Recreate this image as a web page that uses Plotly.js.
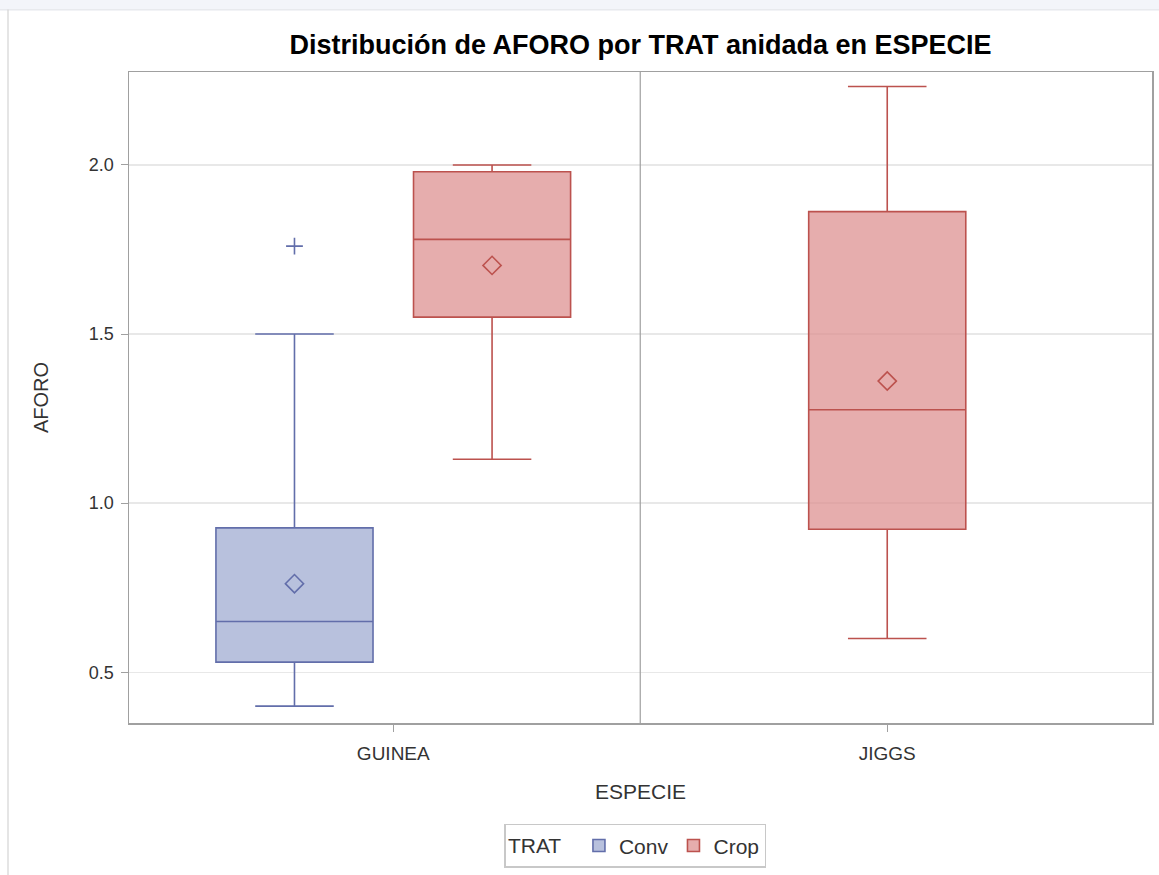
<!DOCTYPE html>
<html>
<head>
<meta charset="utf-8">
<script src="https://cdn.plot.ly/plotly-3.0.1.min.js"></script>
<style>html,body{margin:0;padding:0;background:#fff;}#chart{width:1159px;height:875px;}</style>
</head>
<body>
<div id="chart"></div>
<script>
// ---- data ----
const especies = ['GUINEA', 'JIGGS'];
const tratamientos = ['Conv', 'Crop'];
const boxEspecie = ['GUINEA', 'GUINEA', 'JIGGS'];
const boxTrat = ['Conv', 'Crop', 'Crop'];
const lowerFence = [0.40, 1.13, 0.60];
const q1 = [0.53, 1.55, 0.923];
const median = [0.65, 1.78, 1.276];
const q3 = [0.927, 1.98, 1.862];
const upperFence = [1.50, 2.00, 2.232];
const means = [0.762, 1.703, 1.361];
const outlierEspecie = ['GUINEA'];
const outlierTrat = ['Conv'];
const outlierValues = [1.76];
const yTicks = [0.5, 1.0, 1.5, 2.0];

// ---- styles ----
const lineColors = {Conv: 'rgb(98,110,170)', Crop: 'rgb(188,82,78)'};
const fillColors = {Conv: 'rgba(160,172,210,0.75)', Crop: 'rgba(222,146,146,0.75)'};
const slot = 0.4, boxW = 0.318;

// position of a box: species index plus offset within the species group
function boxPos(esp, trat) {
  const groups = tratamientos.filter(t => boxEspecie.some((e, i) => e === esp && boxTrat[i] === t));
  const k = groups.indexOf(trat);
  return especies.indexOf(esp) + (k - (groups.length - 1) / 2) * slot;
}

const traces = [];
const legendShown = {};
boxEspecie.forEach((esp, i) => {
  const t = boxTrat[i];
  traces.push({
    type: 'box',
    name: t,
    legendgroup: t,
    showlegend: !legendShown[t],
    x: [boxPos(esp, t)],
    q1: [q1[i]], median: [median[i]], q3: [q3[i]],
    lowerfence: [lowerFence[i]], upperfence: [upperFence[i]],
    width: boxW,
    whiskerwidth: 0.5,
    fillcolor: fillColors[t],
    line: {color: lineColors[t], width: 1.6},
    boxpoints: false,
    hoverinfo: 'skip'
  });
  legendShown[t] = true;
  traces.push({
    type: 'scatter', mode: 'markers', showlegend: false, legendgroup: t,
    x: [boxPos(esp, t)], y: [means[i]],
    marker: {symbol: 'diamond-open', size: 14, color: lineColors[t], line: {width: 1.6, color: lineColors[t]}},
    hoverinfo: 'skip'
  });
});
outlierEspecie.forEach((esp, i) => {
  const t = outlierTrat[i];
  traces.push({
    type: 'scatter', mode: 'markers', showlegend: false, legendgroup: t,
    x: [boxPos(esp, t)], y: [outlierValues[i]],
    marker: {symbol: 'cross-thin-open', size: 12, color: lineColors[t], line: {width: 1.6, color: lineColors[t]}},
    hoverinfo: 'skip'
  });
});

const font = 'Liberation Sans, Arial, sans-serif';
const layout = {
  width: 1159, height: 875,
  margin: {l: 129, r: 7, t: 72, b: 148},
  paper_bgcolor: '#fff', plot_bgcolor: '#fff',
  font: {family: font, color: '#333', size: 18},
  showlegend: true,
  title: {
    text: '<b>Distribución de AFORO por TRAT anidada en ESPECIE</b>',
    font: {family: font, size: 27, color: '#000'},
    x: 0.5, xref: 'paper', xanchor: 'center',
    y: 1 - 45 / 875, yref: 'container', yanchor: 'middle'
  },
  xaxis: {
    range: [-0.535, 1.536],
    tickvals: especies.map((e, i) => i), ticktext: especies,
    ticks: 'outside', ticklen: 7, tickcolor: '#a0a0a0', tickwidth: 1,
    ticklabelstandoff: 6,
    showgrid: false, zeroline: false,
    showline: true, linecolor: '#a0a0a0', linewidth: 1.5, mirror: true,
    tickfont: {size: 19, color: '#333'},
    title: {text: 'ESPECIE', font: {size: 21, color: '#333'}, standoff: 21}
  },
  yaxis: {
    range: [0.350, 2.2748],
    tickvals: yTicks, ticktext: yTicks.map(v => v.toFixed(1)),
    ticks: 'outside', ticklen: 7, tickcolor: '#a0a0a0', tickwidth: 1,
    ticklabelstandoff: 3,
    showgrid: true, gridcolor: '#e8e8e8', gridwidth: 1.5, zeroline: false,
    showline: true, linecolor: '#a0a0a0', linewidth: 1.5, mirror: true,
    tickfont: {size: 18, color: '#333'},
    title: {text: 'AFORO', font: {size: 20, color: '#333'}, standoff: 35}
  },
  legend: {
    orientation: 'h', x: 0.495, xanchor: 'center', xref: 'paper',
    y: -0.155, yanchor: 'top',
    bordercolor: '#c8c8c8', borderwidth: 1.5, bgcolor: '#fff',
    font: {size: 21, color: '#333'},
    title: {text: 'TRAT  ', font: {size: 21, color: '#333'}},
    itemwidth: 30
  },
  shapes: [
    {type: 'line', xref: 'x', yref: 'paper', x0: 0.5, x1: 0.5, y0: 0, y1: 1,
     line: {color: '#a0a0a0', width: 1.2}},
    {type: 'rect', xref: 'paper', yref: 'paper', x0: -0.2, x1: 1.1, y0: (727 - 0) / 655 + 0.01, y1: (727 - 9) / 655,
     fillcolor: '#f3f5fa', line: {width: 0}, layer: 'below'},
    {type: 'line', xref: 'paper', yref: 'paper', x0: -0.2, x1: 1.1, y0: (727 - 9.5) / 655, y1: (727 - 9.5) / 655,
     line: {color: '#dde0e6', width: 1}},
    {type: 'line', xref: 'paper', yref: 'paper', x0: (8 - 129) / 1023, x1: (8 - 129) / 1023, y0: (727 - 880) / 655, y1: (727 - 9) / 655,
     line: {color: '#d4d4d4', width: 1.2}}
  ]
};

Plotly.newPlot('chart', traces, layout, {displayModeBar: false, staticPlot: true});
</script>
</body>
</html>
